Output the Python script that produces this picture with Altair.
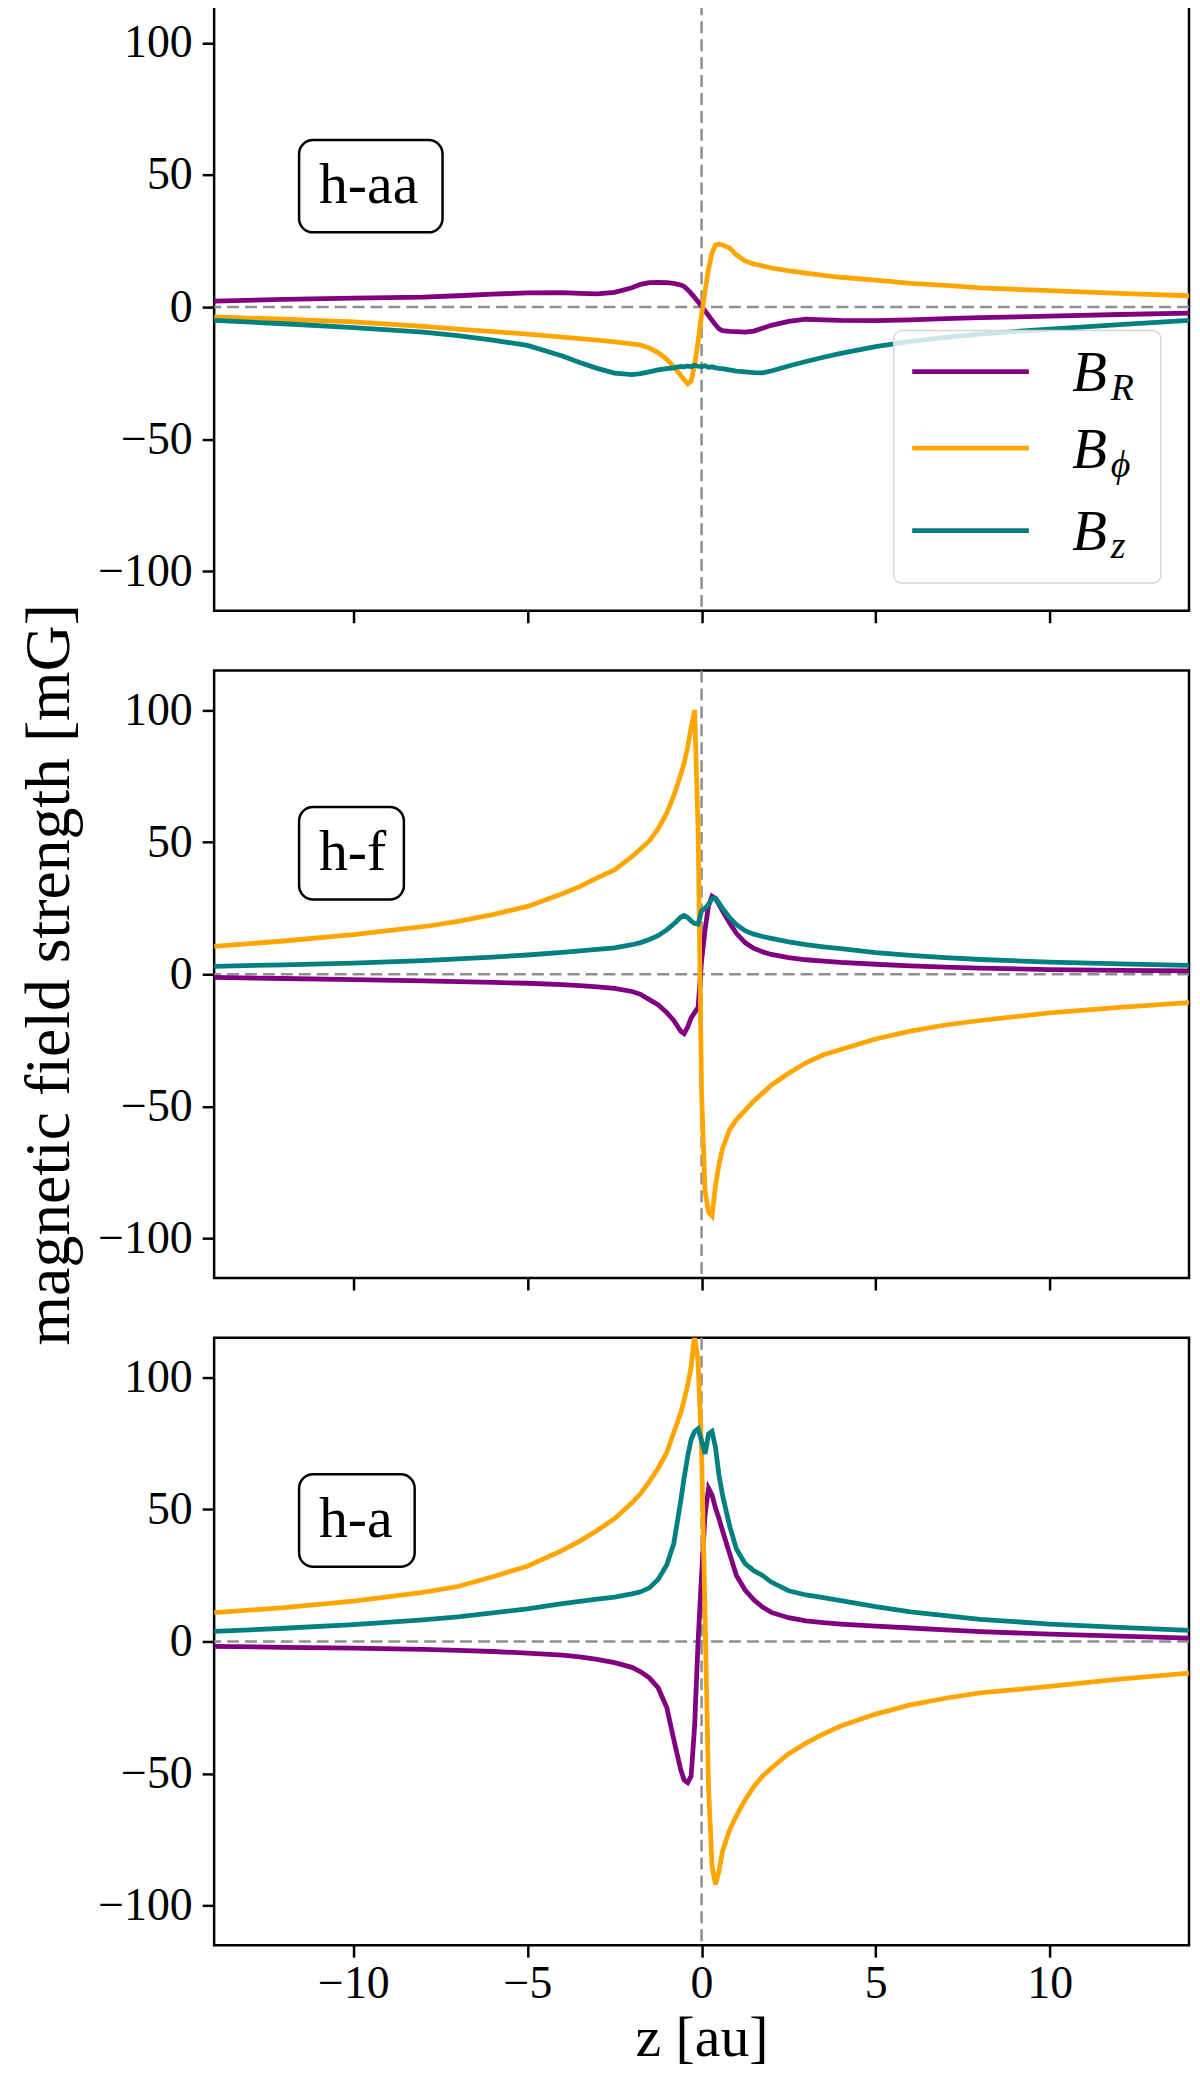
import altair as alt
import pandas as pd

FONT = "Liberation Serif"

Z = [-14, -12, -10, -8, -7, -6, -5, -4, -3.5, -3, -2.5, -2, -1.75, -1.5, -1.25, -1.0,
     -0.8, -0.6, -0.5, -0.4, -0.3, -0.2, -0.1, 0.0, 0.1, 0.2, 0.3, 0.4, 0.5, 0.6,
     0.8, 1.0, 1.25, 1.5, 1.75, 2.0, 2.5, 3.0, 3.5, 4, 5, 6, 7, 8, 10, 12, 14]

# h-aa
HAA_BR = [2.3, 2.9, 3.4, 3.8, 4.3, 4.9, 5.4, 5.5, 5.2, 5.0, 5.6, 7.3, 8.6, 9.3, 9.4, 9.3,
          9.0, 8.4, 7.8, 6.6, 5.2, 3.6, 2.0, 0.2, -1.5, -3.2, -5.0, -6.7, -8.2, -8.9,
          -9.2, -9.3, -9.5, -9.1, -8.0, -6.9, -5.4, -4.6, -4.8, -5.0, -5.1, -4.8, -4.4, -4.0, -3.4, -2.8, -2.3]
HAA_BPHI = [-3.7, -4.6, -5.6, -7.3, -8.3, -9.3, -10.2, -11.4, -11.9, -12.5, -13.2, -13.9, -14.4, -15.5, -17.2, -19.8,
            -22.5, -25.8, -27.5, -29.0, -28.0, -22.0, -13.0, -3.0, 6.0, 14.5, 20.5, 23.5, 23.8, 23.5,
            22.5, 19.8, 17.5, 16.3, 15.6, 14.8, 13.7, 12.9, 12.0, 11.3, 10.2, 9.0, 8.2, 7.3, 6.2, 5.2, 4.3]
HAA_BZ = [-5.0, -6.3, -7.8, -9.5, -10.8, -12.5, -14.5, -18.5, -21.0, -23.2, -25.0, -25.6, -25.2, -24.5, -23.8, -23.3,
          -23.0, -22.5, -22.6, -22.3, -22.6, -22.0, -22.4, -22.5, -22.2, -22.8, -22.6, -23.0, -23.2, -23.3,
          -23.8, -24.2, -24.5, -24.8, -24.9, -24.2, -22.3, -20.6, -19.0, -17.5, -15.0, -13.0, -11.5, -10.2, -8.3, -6.6, -5.0]

# h-f
HF_BR = [-1.2, -1.6, -2.0, -2.5, -2.8, -3.1, -3.4, -3.9, -4.3, -4.8, -5.3, -6.5, -7.6, -9.6, -11.5, -14.5,
         -17.5, -21.5, -22.5, -20.0, -16.5, -14.5, -12.5, 5.0, 17.0, 26.0, 29.5, 28.5, 26.5, 24.0,
         19.5, 15.5, 12.0, 9.8, 8.5, 7.5, 6.3, 5.5, 5.0, 4.5, 3.8, 3.2, 2.7, 2.3, 1.8, 1.5, 1.3]
HF_BPHI = [10.6, 12.6, 15.0, 18.0, 20.0, 22.6, 25.7, 30.5, 33.2, 36.5, 39.5, 44.5, 47.5, 50.5, 55.0, 61.0,
           67.5, 75.5, 80.0, 86.0, 93.5, 100.0, 55.0, -45.0, -82.0, -90.0, -91.5, -80.0, -72.0, -66.0,
           -59.0, -55.0, -51.5, -48.0, -45.0, -42.0, -37.5, -33.5, -30.5, -28.5, -24.5, -21.5, -19.2, -17.5, -14.6, -12.5, -10.7]
HF_BZ = [3.0, 3.6, 4.2, 5.2, 5.8, 6.5, 7.3, 8.3, 8.9, 9.4, 10.0, 11.2, 12.0, 13.2, 14.6, 16.8,
         19.0, 21.6, 22.3, 21.5, 20.2, 19.2, 19.0, 24.0, 25.0, 26.5, 28.5, 28.8, 27.0, 25.0,
         21.5, 18.8, 16.5, 15.2, 14.3, 13.6, 12.3, 11.2, 10.4, 9.7, 8.2, 7.2, 6.3, 5.6, 4.6, 3.9, 3.4]

# h-a
HA_BR = [-1.9, -2.2, -2.5, -3.0, -3.4, -3.8, -4.4, -5.2, -5.8, -6.8, -8.0, -9.8, -11.5, -13.8, -17.5, -25.0,
         -37.0, -48.5, -52.5, -53.5, -51.0, -32.0, 0.0, 25.0, 48.0, 58.0, 55.5, 50.5, 46.5, 42.0,
         33.5, 25.0, 19.5, 15.8, 13.0, 11.0, 9.0, 7.8, 7.1, 6.6, 5.8, 5.1, 4.4, 3.7, 2.8, 2.0, 1.3]
HA_BPHI = [10.9, 12.8, 15.3, 18.6, 20.8, 24.5, 28.5, 34.5, 38.0, 42.0, 46.5, 52.5, 56.0, 60.5, 65.5, 71.5,
           79.0, 86.5, 91.5, 97.0, 104.0, 116.0, 106.0, 72.0, 10.0, -55.0, -85.0, -92.0, -87.0, -79.5,
           -71.5, -66.0, -60.0, -55.0, -51.0, -48.0, -42.5, -38.5, -35.0, -32.0, -27.5, -24.0, -21.5, -19.5, -17.0, -14.3, -12.0]
HA_BZ = [3.8, 5.0, 6.4, 8.2, 9.3, 10.8, 12.3, 14.3, 15.2, 16.0, 16.8, 18.0, 18.8, 20.3, 23.5, 29.0,
         37.0, 53.0, 62.0, 70.0, 76.5, 79.5, 80.5, 76.0, 71.0, 78.5, 79.5, 73.5, 63.0, 55.5,
         44.0, 35.0, 29.5, 26.8, 25.0, 22.5, 19.2, 17.6, 16.6, 15.5, 13.2, 11.2, 9.8, 8.4, 6.6, 5.3, 4.2]

COMPONENTS = ["B_R", "B_phi", "B_z"]
COLORS = ["purple", "orange", "teal"]
LEGEND_MAIN = ["B", "B", "B"]
LEGEND_SUB = ["R", "ϕ", "z"]

color = alt.Color("component:N", scale=alt.Scale(domain=COMPONENTS, range=COLORS), legend=None)


def long_frame(br, bphi, bz):
    rows = []
    for name, vals in zip(COMPONENTS, [br, bphi, bz]):
        for zz, v in zip(Z, vals):
            rows.append({"z": zz, "value": v, "component": name})
    return pd.DataFrame(rows)


def panel(df, label, box_right, bottom, y_title, with_legend):
    x = alt.X(
        "z:Q",
        scale=alt.Scale(domain=[-14, 14], nice=False, zero=False),
        axis=alt.Axis(values=[-10, -5, 0, 5, 10], labels=bottom,
                      title="z [au]" if bottom else None,
                      labelPadding=5, titlePadding=3, titleFontSize=58),
    )
    y = alt.Y(
        "value:Q",
        scale=alt.Scale(domain=[-115, 115], nice=False, zero=False),
        axis=alt.Axis(values=[-100, -50, 0, 50, 100], title=y_title,
                      labelPadding=10, titlePadding=16, titleFontSize=64),
    )

    zero_h = alt.Chart(pd.DataFrame({"value": [0]})).mark_rule(
        color="#8f8f8f", strokeWidth=2.5, strokeDash=[12, 6]
    ).encode(y=y)
    zero_v = alt.Chart(pd.DataFrame({"z": [0]})).mark_rule(
        color="#8f8f8f", strokeWidth=2.5, strokeDash=[12, 6]
    ).encode(x=x)

    lines = alt.Chart(df).mark_line(strokeWidth=4.8, clip=True).encode(
        x=x, y=y, color=color, detail="component:N", order="z:Q"
    )

    box = alt.Chart(pd.DataFrame({"z": [-11.56], "z2": [box_right], "value": [63.3], "value2": [28.3]})).mark_rect(
        fill="white", stroke="black", strokeWidth=2.5, cornerRadius=14
    ).encode(x=x, x2="z2:Q", y=y, y2="value2:Q")
    text = alt.Chart(pd.DataFrame({"z": [-10.99], "value": [39.6], "label": [label]})).mark_text(
        align="left", baseline="alphabetic", font=FONT, fontSize=58, color="black"
    ).encode(x=x, y=y, text="label:N")

    layers = [zero_h, zero_v, lines, box, text]

    if with_legend:
        frame = alt.Chart(pd.DataFrame({"z": [5.52], "z2": [13.19], "value": [-8.9], "value2": [-104.5]})).mark_rect(
            fill="white", fillOpacity=0.8, stroke="#d6d6d6", strokeWidth=1.5, cornerRadius=8
        ).encode(x=x, x2="z2:Q", y=y, y2="value2:Q")
        keys = alt.Chart(pd.DataFrame({
            "z": [6.05] * 3, "z2": [9.40] * 3, "value": [-24.4, -53.4, -84.6], "component": COMPONENTS
        })).mark_rule(strokeWidth=4.8).encode(x=x, x2="z2:Q", y=y, color=color)
        mains = alt.Chart(pd.DataFrame({
            "z": [10.65] * 3, "value": [-31.8, -61.0, -91.8], "label": LEGEND_MAIN
        })).mark_text(align="left", baseline="alphabetic", font=FONT, fontSize=57,
                      fontStyle="italic", color="black").encode(x=x, y=y, text="label:N")
        subs = alt.Chart(pd.DataFrame({
            "z": [11.75] * 3, "value": [-35.1, -64.4, -95.1], "label": LEGEND_SUB
        })).mark_text(align="left", baseline="alphabetic", font=FONT, fontSize=38,
                      fontStyle="italic", color="black").encode(x=x, y=y, text="label:N")
        layers += [frame, keys, mains, subs]

    return alt.layer(*layers).properties(width=979, height=610)


p1 = panel(long_frame(HAA_BR, HAA_BPHI, HAA_BZ), "h-aa", -7.44, False, None, True)
p2 = panel(long_frame(HF_BR, HF_BPHI, HF_BZ), "h-f", -8.55, False, "magnetic field strength [mG]", False)
p3 = panel(long_frame(HA_BR, HA_BPHI, HA_BZ), "h-a", -8.24, True, None, False)

chart = (
    alt.vconcat(p1, p2, p3, spacing=60, bounds="flush")
    .properties(padding={"left": 8, "top": -12, "right": 0, "bottom": 0})
    .configure_view(stroke="black", strokeWidth=2.5)
    .configure_axis(
        grid=False,
        domain=False,
        tickColor="black",
        tickWidth=2.5,
        tickSize=12,
        labelFont=FONT,
        labelFontSize=46,
        labelColor="black",
        titleFont=FONT,
        titleFontWeight="normal",
        titleColor="black",
    )
)

chart.save("out.html", embed_options={"renderer": "svg", "actions": False})
